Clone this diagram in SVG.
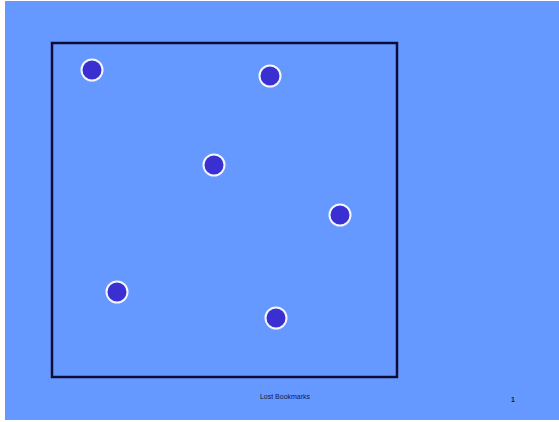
<svg xmlns="http://www.w3.org/2000/svg" width="559" height="422" viewBox="0 0 559 422">
<style>
.dot{fill:#3a2fd0;stroke:#f4f6ff;stroke-width:2}
.t{font-family:"Liberation Sans",Arial,sans-serif;fill:#101848}
</style>
<rect x="0" y="0" width="559" height="422" fill="#ffffff"/>
<rect x="5" y="1" width="554" height="419" fill="#6699ff"/>
<g id="frame"><rect x="52" y="43" width="345" height="334" fill="none" stroke="#0c0c38" stroke-width="2.5"/></g>
<g id="connectors"></g>
<g id="n1"><circle class="dot" cx="92" cy="70" r="10.5"/></g>
<g id="n2"><circle class="dot" cx="270" cy="76" r="10.5"/></g>
<g id="n3"><circle class="dot" cx="214" cy="165" r="10.5"/></g>
<g id="n4"><circle class="dot" cx="340" cy="215" r="10.5"/></g>
<g id="n5"><circle class="dot" cx="117" cy="292" r="10.5"/></g>
<g id="n6"><circle class="dot" cx="276" cy="318" r="10.5"/></g>
<text class="t" x="285" y="399" font-size="7" text-anchor="middle">Lost Bookmarks</text>
<text class="t" x="513" y="402" font-size="7" font-weight="bold" text-anchor="middle">1</text>
</svg>
